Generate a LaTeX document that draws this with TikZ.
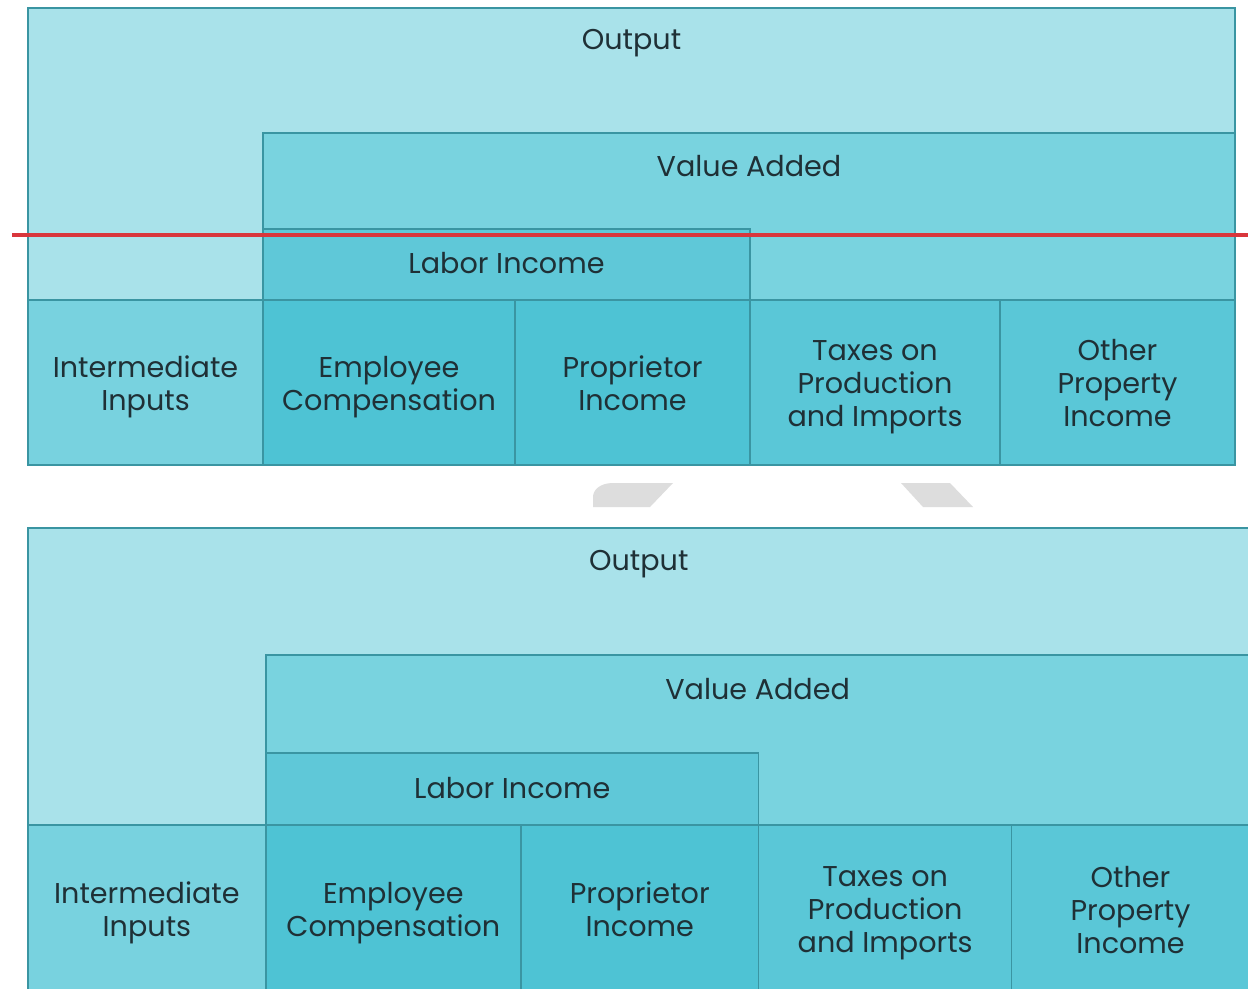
\documentclass[tikz,border=0pt]{standalone}
\usepackage{fontspec}
\setmainfont{Poppins}
\usetikzlibrary{positioning}
\definecolor{OutFill}{HTML}{A9E2EA}
\definecolor{VAFill}{HTML}{79D3DF}
\definecolor{LabFill}{HTML}{5FC8D8}
\definecolor{IIFill}{HTML}{78D2DF}
\definecolor{CompFill}{HTML}{4EC3D4}
\definecolor{TaxFill}{HTML}{5AC7D7}
\definecolor{EdgeTeal}{HTML}{3A95A2}
\definecolor{InkDark}{HTML}{1F3036}
\definecolor{CutRed}{HTML}{D9363C}
\definecolor{GapGrey}{HTML}{DDDDDD}
\tikzset{
  blk/.style={draw=EdgeTeal, line width=0.85pt},
  outbox/.style={blk, fill=OutFill},
  vabox/.style={blk, fill=VAFill},
  labbox/.style={blk, fill=LabFill},
  iibox/.style={blk, fill=IIFill},
  compbox/.style={blk, fill=CompFill},
  taxbox/.style={blk, fill=TaxFill},
  lbl/.style={align=center, text=InkDark, inner sep=0pt, yshift=-2.9pt,
    font=\fontsize{16.3}{18.8}\selectfont,
    execute at begin node=\strut, execute at end node=\strut},
  cutline/.style={draw=CutRed, line width=0.065cm},
  gapmark/.style={fill=GapGrey},
}
% one copy of the output breakdown, origin at its top-left corner
\newcommand{\outputblocks}{%
  \filldraw[outbox] (0,0) rectangle (1207,457);
  \filldraw[vabox] (235,125) rectangle (1207,292);
  \filldraw[labbox] (235,221) rectangle (722,292);
  \filldraw[iibox] (0,292) rectangle (235,457);
  \filldraw[compbox] (235,292) rectangle (487,457);
  \filldraw[compbox] (487,292) rectangle (722,457);
  \filldraw[taxbox] (722,292) rectangle (972,457);
  \filldraw[taxbox] (972,292) rectangle (1207,457);
  \node[lbl] (out) at (603.5,30) {Output};
  \node[lbl] (va) at (721,157) {Value Added};
  \node[lbl] (labor) at (478.5,254) {Labor Income};
  \node[lbl] (ii) at (117.5,375) {Intermediate\\Inputs};
  \node[lbl] (comp) at (361,375) {Employee\\Compensation};
  \node[lbl] (prop) at (604.5,375) {Proprietor\\Income};
  \node[lbl] (tax) at (847,375) {Taxes on\\Production\\and Imports};
  \node[lbl] (opi) at (1089.5,375) {Other\\Property\\Income};
}

\begin{document}
\begin{tikzpicture}[x=0.02cm, y=-0.02cm]
  \clip (0,0) rectangle (1248,988);
  \fill[white] (0,0) rectangle (1248,988);
  \begin{scope}[shift={(28,8)}, name prefix=top-]
    \outputblocks
  \end{scope}
  \draw[cutline] (12,235) -- (1248,235);
  % break marks between the two copies
  \fill[gapmark] (593,507) -- (593,497) .. controls (593,490) and (600,483) .. (613,483)
    -- (673,483) -- (650,507) -- cycle;
  \fill[gapmark] (901,483) -- (950,483) -- (973,507) -- (923,507) -- cycle;
  \begin{scope}[shift={(28,528)}, xscale=1.012, yscale=1.017, name prefix=bot-]
    \outputblocks
  \end{scope}
\end{tikzpicture}
\end{document}
